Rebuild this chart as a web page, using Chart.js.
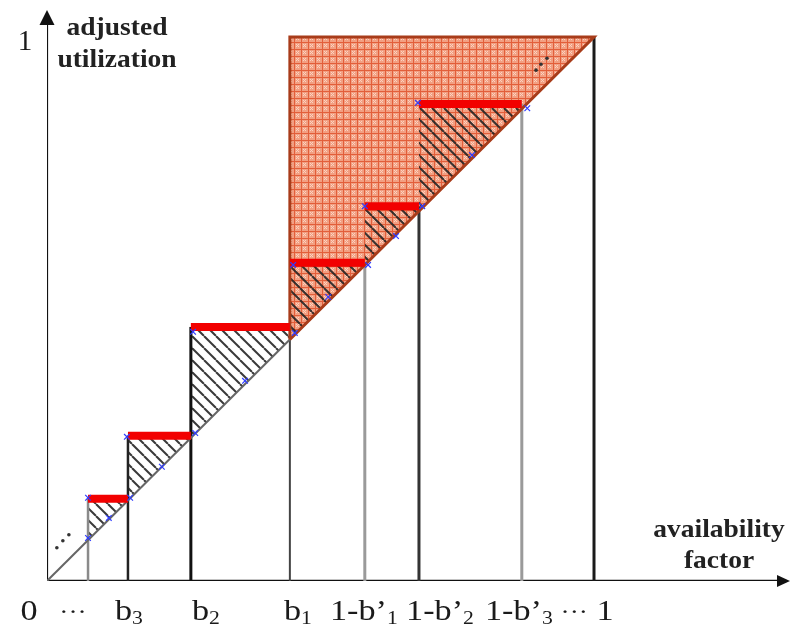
<!DOCTYPE html>
<html><head><meta charset="utf-8">
<script src="https://cdn.jsdelivr.net/npm/chart.js@4/dist/chart.umd.min.js"></script>
<style>html,body{margin:0;padding:0;background:#fff}canvas{display:block}</style>
</head><body>
<canvas id="c" width="798" height="624"></canvas>
<script>
// ---------------- data ----------------
const tickValues = [0, 0.075, 0.148, 0.263, 0.444, 0.581, 0.680, 0.868, 1.0];
const tickLabels = ['0', '···', 'b|3', 'b|2', 'b|1', '1-b’|1', '1-b’|2', '1-b’|3', '··· 1'];
const stepLeft  = [0.075, 0.148, 0.263, 0.444, 0.581, 0.680];
const stepRight = [0.148, 0.263, 0.444, 0.581, 0.680, 0.868];
const stepLevel = [0.151, 0.267, 0.467, 0.585, 0.689, 0.877];
const verticalX   = [0.075, 0.148, 0.263, 0.444, 0.581, 0.680, 0.868, 1.0];
const verticalTop = [0.151, 0.267, 0.467, 0.444, 0.585, 0.689, 0.877, 1.0];
const shadedFrom = 0.444;
const markerX = [0.075,0.075,0.152,0.113, 0.146,0.271,0.210, 0.267,0.453,0.362, 0.450,0.587,0.514, 0.581,0.686,0.638, 0.678,0.878,0.777];
const markerY = [0.079,0.153,0.153,0.116, 0.265,0.272,0.210, 0.458,0.456,0.368, 0.581,0.581,0.522, 0.689,0.689,0.634, 0.879,0.869,0.783];
const dotsX = [0.018, 0.029, 0.040, 0.894, 0.903, 0.914];
const dotsY = [0.061, 0.074, 0.085, 0.939, 0.950, 0.961];
const yTickValue = 1, yTickLabel = '1';
const xTitle = ['availability', 'factor'];
const yTitle = ['adjusted', 'utilization'];

// ---------------- styles ----------------
const X_MAX = 1.3583, Y_MAX = 1.0496;      // scale extents (arrow tips)
const X_AXIS_END = 1.3455, Y_AXIS_END = 1.0276;
const labelNudge = [-18, -15, 1, 15, 8, -1, 21, -3, -7];
const vColors = ['#8a8a8a', '#222', '#111', '#444', '#9a9a9a', '#333', '#9a9a9a', '#1a1a1a'];
const vWidths = [2.5, 2.5, 3, 2, 3, 3, 3, 3];

function makeHatch() {
  const s = 12;
  const c = document.createElement('canvas'); c.width = s; c.height = s;
  const g = c.getContext('2d');
  g.strokeStyle = 'rgba(35,35,35,0.9)'; g.lineWidth = 2;
  for (const k of [-1, 0, 1]) { g.beginPath(); g.moveTo(k*s, 0); g.lineTo(k*s+s, s); g.stroke(); }
  return g.createPattern(c, 'repeat');
}
function makeGrid() {
  const c = document.createElement('canvas'); c.width = 7; c.height = 7;
  const g = c.getContext('2d');
  g.fillStyle = '#f29f82'; g.fillRect(0, 0, 7, 7);
  g.fillStyle = '#fbd2c0';
  for (const [a,b] of [[2,2],[4,2],[2,4],[4,4],[3,3]]) g.fillRect(a, b, 1, 1);
  g.fillStyle = '#e25e3a'; g.fillRect(0, 0, 7, 1); g.fillRect(0, 0, 1, 7);
  return g.createPattern(c, 'repeat');
}
const hatch = makeHatch(), grid = makeGrid();

const datasets = [];
const base = {type: 'line', pointRadius: 0, fill: false, tension: 0, borderCapStyle: 'butt'};
// dots
datasets.push({...base, data: dotsX.map((x,i)=>({x, y: dotsY[i]})), showLine: false, pointRadius: 1.8,
  pointBackgroundColor: '#333', pointBorderWidth: 0, order: 1});
// markers
datasets.push({...base, data: markerX.map((x,i)=>({x, y: markerY[i]})), showLine: false, pointRadius: 4,
  pointStyle: 'crossRot', pointBorderColor: '#2f3cff', pointBorderWidth: 1.2, order: 2});
// red bars
stepLeft.forEach((L, i) => datasets.push({...base, data: [{x: L, y: stepLevel[i]}, {x: stepRight[i], y: stepLevel[i]}],
  borderColor: '#f20000', borderWidth: 8, order: 3}));
// orange outline
datasets.push({...base, data: [{x: shadedFrom, y: shadedFrom}, {x: shadedFrom, y: 1}, {x: 1, y: 1}, {x: shadedFrom, y: shadedFrom}],
  borderColor: '#a83c1a', borderWidth: 3, borderJoinStyle: 'miter', order: 4});
// diagonal lower part
datasets.push({...base, data: [{x: 0, y: 0}, {x: shadedFrom, y: shadedFrom}], borderColor: '#666', borderWidth: 2, order: 5});
// vertical lines
verticalX.forEach((x, i) => datasets.push({...base, data: [{x, y: 0}, {x, y: verticalTop[i]}],
  borderColor: vColors[i], borderWidth: vWidths[i], order: 6}));
// axes
datasets.push({...base, data: [{x: 0, y: 0}, {x: X_AXIS_END, y: 0}], borderColor: '#111', borderWidth: 2.4, order: 6});
datasets.push({...base, data: [{x: 0, y: 0}, {x: 0, y: Y_AXIS_END}], borderColor: '#111', borderWidth: 2.2, order: 6});
// hatched triangles (fill between top and diagonal)
stepLeft.forEach((L, i) => {
  const R = stepRight[i], lv = stepLevel[i];
  datasets.push({...base, data: [{x: L, y: lv}, {x: R, y: lv}], borderWidth: 0, borderColor: 'rgba(0,0,0,0)',
    backgroundColor: hatch, fill: '+1', order: 7});
  datasets.push({...base, data: [{x: L, y: L}, {x: R, y: R}], borderWidth: 0, borderColor: 'rgba(0,0,0,0)', order: 7});
});
// orange region
datasets.push({...base, data: [{x: shadedFrom, y: 1}, {x: 1, y: 1}], borderWidth: 0, borderColor: 'rgba(0,0,0,0)',
  backgroundColor: grid, fill: '+1', order: 8});
datasets.push({...base, data: [{x: shadedFrom, y: shadedFrom}, {x: 1, y: 1}], borderWidth: 0, borderColor: 'rgba(0,0,0,0)', order: 8});

const SERIF = '"Liberation Serif", "Times New Roman", serif';
function drawTick(ctx, label, cx, baseY) {
  let [main, sub] = label.split('|');
  let dots = '';
  if (main.startsWith('···')) { dots = '···'; main = main.slice(3); }
  ctx.font = '24px ' + SERIF; const wd = dots ? ctx.measureText(dots).width : 0;
  ctx.font = '30px ' + SERIF; const wm = main ? ctx.measureText(main).width : 0;
  ctx.font = '19px ' + SERIF; const ws = sub ? ctx.measureText(sub).width : 0;
  const total = wd + wm + ws;
  ctx.save(); ctx.translate(cx, baseY); ctx.scale(1.14, 1);
  ctx.textAlign = 'left'; ctx.textBaseline = 'alphabetic'; ctx.fillStyle = '#1a1a1a';
  let x = -total / 2;
  if (dots) { ctx.font = '24px ' + SERIF; ctx.fillText(dots, x, -1); x += wd; }
  if (main) { ctx.font = '30px ' + SERIF; ctx.fillText(main, x, 0); x += wm; }
  if (sub) { ctx.font = '19px ' + SERIF; ctx.fillText(sub, x, 4); }
  ctx.restore();
}
function drawBold(ctx, text, cx, baseY) {
  ctx.save(); ctx.translate(cx, baseY); ctx.scale(1.1, 1);
  ctx.font = 'bold 25px ' + SERIF; ctx.fillStyle = '#222';
  ctx.textAlign = 'center'; ctx.textBaseline = 'alphabetic';
  ctx.fillText(text, 0, 0); ctx.restore();
}

const deco = {
  id: 'deco',
  afterDraw(chart) {
    const {ctx, scales: {x, y}} = chart;
    const ox = x.getPixelForValue(0), oy = y.getPixelForValue(0);
    const xt = x.getPixelForValue(X_MAX), yt = y.getPixelForValue(Y_MAX);
    ctx.save(); ctx.fillStyle = '#111';
    ctx.beginPath(); ctx.moveTo(xt, oy); ctx.lineTo(xt - 13, oy - 6); ctx.lineTo(xt - 13, oy + 6); ctx.closePath(); ctx.fill();
    ctx.beginPath(); ctx.moveTo(ox, yt); ctx.lineTo(ox - 7.5, yt + 15); ctx.lineTo(ox + 7.5, yt + 15); ctx.closePath(); ctx.fill();
    ctx.restore();
    tickValues.forEach((v, i) => drawTick(ctx, tickLabels[i], x.getPixelForValue(v) + labelNudge[i], 620));
    ctx.save(); ctx.font = '29px ' + SERIF; ctx.fillStyle = '#1a1a1a'; ctx.textAlign = 'center';
    ctx.fillText(yTickLabel, 25, y.getPixelForValue(yTickValue) + 13); ctx.restore();
    drawBold(ctx, yTitle[0], 117, 35); drawBold(ctx, yTitle[1], 117, 67);
    drawBold(ctx, xTitle[0], 719, 537); drawBold(ctx, xTitle[1], 719, 568);
  }
};

new Chart(document.getElementById('c'), {
  type: 'line',
  data: {datasets},
  options: {
    responsive: false, animation: false, events: [],
    layout: {padding: {left: 47, right: 8, top: 10, bottom: 43}},
    plugins: {legend: {display: false}, tooltip: {enabled: false}},
    scales: {
      x: {type: 'linear', min: 0, max: X_MAX, display: false},
      y: {type: 'linear', min: 0, max: Y_MAX, display: false}
    }
  },
  plugins: [deco]
});
</script>
</body></html>
